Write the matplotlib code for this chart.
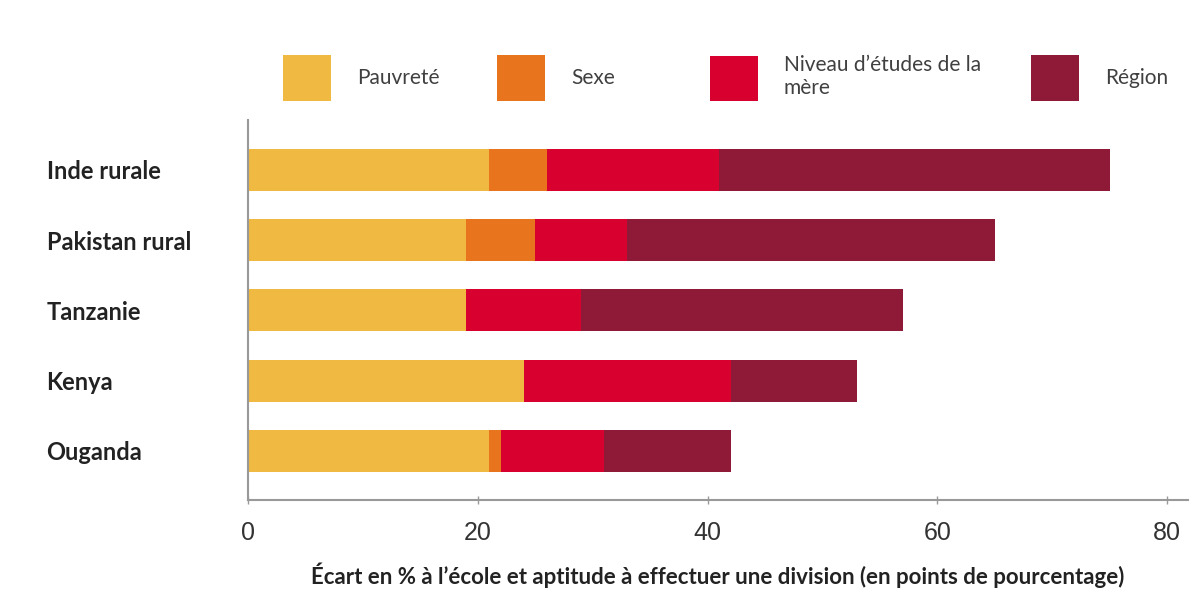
import matplotlib

matplotlib.use("Agg")
import matplotlib.pyplot as plt
import matplotlib.patches as mpatches
import numpy as np

countries = ["Inde rurale", "Pakistan rural", "Tanzanie", "Kenya", "Ouganda"]
pauvrete = [21, 19, 19, 24, 21]
sexe = [5, 6, 0, 0, 1]
niveau_mere = [15, 8, 10, 18, 9]
region = [34, 32, 28, 11, 11]

series_labels = ["Pauvreté", "Sexe", "Niveau d’études de la\nmère", "Région"]
colors = ["#F0B941", "#E8741E", "#D7002F", "#8E1A38"]
x_ticks = [0, 20, 40, 60, 80]

fig = plt.figure(figsize=(11.94, 6.05), dpi=100)
ax = fig.add_axes([248 / 1194, 1 - 500 / 605, (1188 - 248) / 1194, (500 - 120) / 605])

y = np.arange(len(countries))
left = np.zeros(len(countries))
for vals, col in zip([pauvrete, sexe, niveau_mere, region], colors):
    ax.barh(y, vals, left=left, height=0.6, color=col, edgecolor="none")
    left += np.array(vals)

ax.set_xlim(0, 81.8)
ax.set_ylim(4.7, -0.71)

ax.set_xticks(x_ticks)
ax.set_xticklabels([str(t) for t in x_ticks], fontsize=18, color="#333333",
                   family="Liberation Sans")
ax.tick_params(axis="x", direction="inout", length=6, width=1, color="#999999", pad=12)

ax.set_yticks(y)
ax.set_yticklabels(countries, fontsize=17, fontweight="bold", family="Lato",
                   color="#222222", ha="left")
ax.tick_params(axis="y", length=0, pad=145)

for s in ["top", "right"]:
    ax.spines[s].set_visible(False)
for s in ["left", "bottom"]:
    ax.spines[s].set_color("#999999")
    ax.spines[s].set_linewidth(1.5)

ax.set_xlabel("Écart en % à l’école et aptitude à effectuer une division (en points de pourcentage)",
              fontsize=16, fontweight="bold", family="Lato", color="#222222", labelpad=13)

# legend entries placed one by one, as in the original layout
patch_left = [283, 497, 710, 1031]
fs = 15
fs_px = fs * 100 / 72
for lab, col, px in zip(series_labels, colors, patch_left):
    h = mpatches.Patch(facecolor=col, edgecolor="none", label=lab)
    fig.legend(handles=[h], loc="center left", bbox_to_anchor=(px / 1194, 1 - 78 / 605),
               frameon=False, borderpad=0, borderaxespad=0,
               handlelength=48 / fs_px, handleheight=47 / fs_px + 0.7,
               handletextpad=26 / fs_px,
               prop={"family": "Lato", "size": fs}, labelcolor="#404040")

fig.savefig("out.png", dpi=100, facecolor="white")
